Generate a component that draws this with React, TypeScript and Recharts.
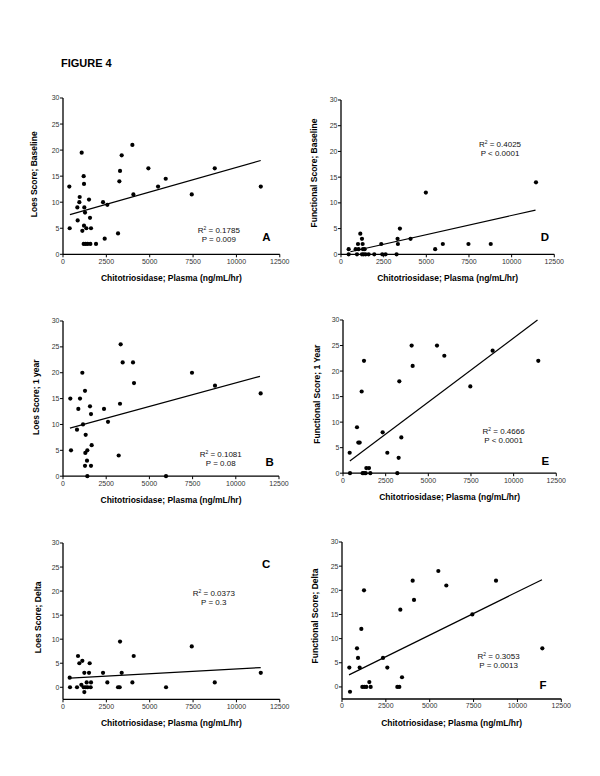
import React from 'react';
import { ScatterChart, Scatter, XAxis, YAxis, ReferenceLine, ReferenceDot } from 'recharts';

// ---------- data ----------
const xTicks = [0, 2500, 5000, 7500, 10000, 12500];
const yTicks = [0, 5, 10, 15, 20, 25, 30];
const xAxisTitle = 'Chitotriosidase; Plasma (ng/mL/hr)';
const figureTitle = 'FIGURE 4';

// [chitotriosidase, score]
const loesBaseline: [number, number][] = [
  [365, 13], [385, 5], [827, 9], [846, 6.5], [942, 10], [962, 11], [1077, 19.5], [1115, 4.5],
  [1192, 15], [1211, 13.5], [1230, 9], [1269, 8], [1211, 5.5], [1346, 5], [1500, 10.5],
  [1557, 7], [1615, 5], [1192, 2], [1307, 2], [1423, 2], [1577, 2], [1904, 2], [2308, 10],
  [2557, 9.5], [2404, 3], [3173, 4], [3250, 14], [3288, 16], [3384, 19], [4000, 21],
  [4058, 11.5], [4923, 16.5], [5481, 13], [5923, 14.5], [7423, 11.5], [8750, 16.5], [11404, 13],
];
const functionalBaseline: [number, number][] = [
  [449, 1], [449, 0], [858, 1], [936, 0], [995, 2], [1034, 1], [1131, 4], [1229, 3], [1268, 2],
  [1287, 1], [1385, 1], [1229, 0], [1326, 0], [1443, 0], [1619, 0], [1950, 0], [2360, 2],
  [2418, 0], [2613, 0], [3257, 0], [3315, 3], [3335, 2], [3452, 5], [4076, 3], [4973, 12],
  [5519, 1], [5967, 2], [7469, 2], [8775, 2], [11427, 14],
];
const loesOneYear: [number, number][] = [
  [424, 15], [463, 5], [810, 9], [887, 13], [984, 15], [1119, 20], [1157, 10], [1273, 16.5],
  [1312, 8], [1292, 4.5], [1273, 2], [1408, 5], [1389, 3], [1408, 0], [1562, 13.5], [1620, 12],
  [1659, 6], [1620, 2], [2373, 13], [2604, 10.5], [3222, 4], [3299, 14], [3337, 25.5],
  [3453, 22], [4051, 22], [4109, 18], [5961, 0], [7465, 20], [8796, 17.5], [11439, 16],
];
const functionalOneYear: [number, number][] = [
  [391, 4], [410, 0], [820, 9], [898, 6], [977, 6], [1094, 16], [1230, 22], [1150, 0], [1230, 0],
  [1328, 0], [1367, 1], [1523, 1], [1601, 0], [2324, 8], [2597, 4], [3183, 0], [3261, 3],
  [3300, 18], [3418, 7], [4023, 25], [4082, 21], [5508, 25], [5938, 23], [7461, 17], [8770, 24],
  [11445, 22],
];
const loesDelta: [number, number][] = [
  [385, 2], [404, 0], [808, 0], [865, 6.5], [942, 5], [1058, 0.5], [1115, 5.5], [1230, 3],
  [1192, 0], [1307, 0], [1230, -1], [1365, 1], [1423, 0], [1500, 3], [1538, 5], [1615, 1],
  [1596, 0], [2308, 3], [2557, 1], [3173, 0], [3269, 0], [3288, 9.5], [3384, 3], [4000, 1],
  [4077, 6.5], [5942, 0], [7423, 8.5], [8750, 1], [11404, 3],
];
const functionalDelta: [number, number][] = [
  [418, 4], [456, -1], [855, 8], [912, 6], [1007, 4], [1102, 12], [1254, 20], [1159, 0],
  [1273, 0], [1387, 0], [1558, 1], [1634, 0], [2337, 6], [2584, 4], [3154, 0], [3268, 0],
  [3325, 16], [3420, 2], [4028, 22], [4104, 18], [5491, 24], [5947, 21], [7429, 15], [8778, 22],
  [11419, 8],
];

// regression line end points
const fitLoesBaseline: [number, number][] = [[400, 7.6], [11400, 18.0]];
const fitFunctionalBaseline: [number, number][] = [[550, 0.5], [11400, 8.6]];
const fitLoesOneYear: [number, number][] = [[400, 9.3], [11400, 19.3]];
const fitFunctionalOneYear: [number, number][] = [[400, 2.4], [11400, 30]];
const fitLoesDelta: [number, number][] = [[400, 1.9], [11400, 4.1]];
const fitFunctionalDelta: [number, number][] = [[400, 2.5], [11400, 22.2]];

// ---------- layout ----------
const FONT = '"Liberation Sans", Arial, Helvetica, sans-serif';
const YW = 50;
const MT = 10;
const MR = 15;
const XH = 40;

type PanelCfg = {
  letter: string;
  yTitle: string;
  data: [number, number][];
  fit: [number, number][];
  r2: string;
  p: string;
  yMin: number;
  left: number;
  top: number;
  right: number;
  bottom: number;
  letterPos: [number, number];
  statPos: [number, number];
  yTitleX: number;
  yTitleY: number;
};

const panels: PanelCfg[] = [
  {
    letter: 'A', yTitle: 'Loes Score; Baseline', data: loesBaseline, fit: fitLoesBaseline,
    r2: '0.1785', p: 'P = 0.009', yMin: 0,
    left: 62.5, top: 97.7, right: 279.3, bottom: 254,
    letterPos: [11734, 3.3], statPos: [8983, 3.74], yTitleX: 33.5, yTitleY: 174,
  },
  {
    letter: 'D', yTitle: 'Functional Score; Baseline', data: functionalBaseline, fit: fitFunctionalBaseline,
    r2: '0.4025', p: 'P < 0.0001', yMin: 0,
    left: 341, top: 100, right: 554.3, bottom: 254.3,
    letterPos: [11955, 3.4], statPos: [9318, 20.47], yTitleX: 314, yTitleY: 173,
  },
  {
    letter: 'B', yTitle: 'Loes Score; 1 year', data: loesOneYear, fit: fitLoesOneYear,
    r2: '0.1081', p: 'P = 0.08', yMin: 0,
    left: 63.3, top: 320.5, right: 279.3, bottom: 475.7,
    letterPos: [11962, 2.84], statPos: [9126, 3.38], yTitleX: 36, yTitleY: 396.7,
  },
  {
    letter: 'E', yTitle: 'Functional Score; 1 Year', data: functionalOneYear, fit: fitFunctionalOneYear,
    r2: '0.4666', p: 'P < 0.0001', yMin: 0,
    left: 342.7, top: 319.8, right: 556, bottom: 473,
    letterPos: [11855, 2.35], statPos: [9411, 7.34], yTitleX: 316.7, yTitleY: 394,
  },
  {
    letter: 'C', yTitle: 'Loes Score; Delta', data: loesDelta, fit: fitLoesDelta,
    r2: '0.0373', p: 'P = 0.3', yMin: -2.5,
    left: 62.5, top: 543, right: 279.3, bottom: 699.3,
    letterPos: [11716, 25.6], statPos: [8695, 18.68], yTitleX: 37.3, yTitleY: 617.3,
  },
  {
    letter: 'F', yTitle: 'Functional Score; Delta', data: functionalDelta, fit: fitFunctionalDelta,
    r2: '0.3053', p: 'P = 0.0013', yMin: -2.5,
    left: 341.7, top: 542, right: 561, bottom: 699,
    letterPos: [11457, 0.47], statPos: [8926, 5.37], yTitleX: 315, yTitleY: 616,
  },
];

const Dot = (props: any) => {
  const { cx, cy } = props;
  if (cx == null || cy == null) return null;
  return <circle cx={cx} cy={cy} r={2.1} fill="#000" />;
};

function PanelChart({ cfg }: { cfg: PanelCfg }) {
  const plotW = cfg.right - cfg.left;
  const plotH = cfg.bottom - cfg.top;
  const W = plotW + YW + MR;
  const H = plotH + MT + XH;
  const originX = cfg.left - YW;
  const originY = cfg.top - MT;
  const pts = cfg.data.map(([x, y]) => ({ x, y }));
  const seg = cfg.fit.map(([x, y]) => ({ x, y }));

  const xTitle = () => (
    <text
      x={YW + plotW / 2}
      y={MT + plotH + 23.7}
      dy="0.35em"
      textAnchor="middle"
      fontFamily={FONT}
      fontSize={8.5}
      fontWeight="bold"
      fill="#000"
    >
      {xAxisTitle}
    </text>
  );

  const yTitle = () => {
    const cx = cfg.yTitleX - originX;
    const cy = cfg.yTitleY - originY;
    return (
      <text
        x={cx}
        y={cy}
        dy="0.35em"
        transform={`rotate(-90, ${cx}, ${cy})`}
        textAnchor="middle"
        fontFamily={FONT}
        fontSize={8.5}
        fontWeight="bold"
        fill="#000"
      >
        {cfg.yTitle}
      </text>
    );
  };

  const letterLabel = (props: any) => {
    const vb = props.viewBox || {};
    return (
      <text
        x={vb.x}
        y={vb.y}
        dy="0.36em"
        textAnchor="middle"
        fontFamily={FONT}
        fontSize={11.5}
        fontWeight="bold"
        fill="#000"
      >
        {cfg.letter}
      </text>
    );
  };

  const statLabel = (props: any) => {
    const vb = props.viewBox || {};
    return (
      <g>
        <text
          x={vb.x}
          y={vb.y - 4.5}
          dy="0.35em"
          textAnchor="middle"
          fontFamily={FONT}
          fontSize={8}
          fill="#111"
        >
          R<tspan dy={-3} fontSize={5}>2</tspan>
          <tspan dy={3}>{` = ${cfg.r2}`}</tspan>
        </text>
        <text
          x={vb.x}
          y={vb.y + 4.5}
          dy="0.35em"
          textAnchor="middle"
          fontFamily={FONT}
          fontSize={8}
          fill="#111"
        >
          {cfg.p}
        </text>
      </g>
    );
  };

  return (
    <div style={{ position: 'absolute', left: originX, top: originY }}>
      <ScatterChart width={W} height={H} margin={{ top: MT, right: MR, bottom: 0, left: 0 }}>
        <XAxis
          type="number"
          dataKey="x"
          domain={[0, 12500]}
          ticks={xTicks}
          interval={0}
          height={XH}
          tickSize={3}
          tickMargin={1.5}
          axisLine={{ stroke: '#000', strokeWidth: 1.3 }}
          tickLine={{ stroke: '#000', strokeWidth: 1 }}
          tick={{ fontSize: 7, fill: '#333', fontFamily: FONT }}
          label={{ content: xTitle }}
        />
        <YAxis
          type="number"
          dataKey="y"
          domain={[cfg.yMin, 30]}
          ticks={yTicks}
          interval={0}
          width={YW}
          tickSize={3}
          tickMargin={0.5}
          axisLine={{ stroke: '#000', strokeWidth: 1.3 }}
          tickLine={{ stroke: '#000', strokeWidth: 1 }}
          tick={{ fontSize: 7, fill: '#333', fontFamily: FONT }}
          label={{ content: yTitle }}
        />
        <ReferenceLine segment={seg} stroke="#000" strokeWidth={1.2} />
        <Scatter data={pts} isAnimationActive={false} shape={Dot} />
        <ReferenceDot
          x={cfg.letterPos[0]}
          y={cfg.letterPos[1]}
          r={0}
          fill="none"
          stroke="none"
          label={{ content: letterLabel }}
        />
        <ReferenceDot
          x={cfg.statPos[0]}
          y={cfg.statPos[1]}
          r={0}
          fill="none"
          stroke="none"
          label={{ content: statLabel }}
        />
      </ScatterChart>
    </div>
  );
}

export default function App() {
  return (
    <div
      style={{
        position: 'absolute',
        left: 0,
        top: 0,
        width: 600,
        height: 776,
        background: '#fff',
        overflow: 'hidden',
      }}
    >
      <svg style={{ position: 'absolute', left: 0, top: 0 }} width={600} height={90}>
        <text x={61} y={67.3} fontFamily={FONT} fontSize={11} fontWeight="bold" fill="#000">
          {figureTitle}
        </text>
      </svg>
      {panels.map((p) => (
        <PanelChart key={p.letter} cfg={p} />
      ))}
    </div>
  );
}
